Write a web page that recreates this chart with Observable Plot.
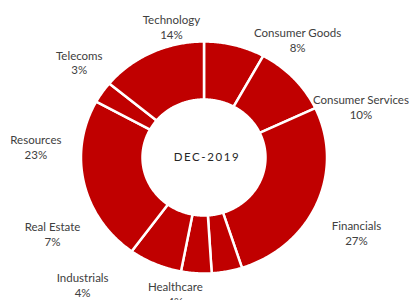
<!DOCTYPE html>
<html>
<head>
<meta charset="utf-8">
<script src="https://cdn.jsdelivr.net/npm/d3@7"></script>
<script src="https://cdn.jsdelivr.net/npm/@observablehq/plot@0.6"></script>
<style>
  html, body { margin: 0; padding: 0; background: #ffffff; }
  #chart { width: 411px; height: 300px; overflow: hidden; }
</style>
</head>
<body>
<div id="chart"></div>
<script>
// ---- data ----
const categories = ["Consumer Goods", "Consumer Services", "Financials", "Healthcare", "Industrials", "Real Estate", "Resources", "Telecoms", "Technology"];
const shares = [8, 10, 27, 4, 4, 7, 23, 3, 14];
const centerLabel = "DEC-2019";
// label placement as in the reference (angle clockwise from top in degrees, distance relative to outer radius)
const labelAngle = [36.8, 70.9, 117.7, 191.2, 222, 242, 273.8, 309, 346.8];
const labelRadius = [1.27, 1.35, 1.40, 1.20, 1.475, 1.395, 1.37, 1.305, 1.16];

// ---- geometry ----
const hole = 0.5;
const pie = d3.pie().sort(null).value(d => d)(shares);
const ring = pie.flatMap((a, i) => {
  const n = Math.max(2, Math.ceil((a.endAngle - a.startAngle) / 0.01));
  const outer = d3.range(n + 1).map(k => {
    const t = a.startAngle + (a.endAngle - a.startAngle) * k / n;
    return {name: categories[i], x: Math.sin(t), y: Math.cos(t)};
  });
  const inner = outer.map(p => ({name: p.name, x: p.x * hole, y: p.y * hole})).reverse();
  return outer.concat(inner);
});

const labels = categories.map((c, i) => {
  const t = labelAngle[i] * Math.PI / 180;
  return {text: c + "\n" + shares[i] + "%", x: labelRadius[i] * Math.sin(t), y: labelRadius[i] * Math.cos(t)};
});

const cx = 203.5, cy = 157, rx = 123, ry = 116;

const chart = Plot.plot({
  width: 411,
  height: 300,
  margin: 0,
  style: {background: "#ffffff", fontFamily: "Lato, 'Open Sans', sans-serif"},
  x: {domain: [-1, 1], range: [cx - rx, cx + rx], axis: null},
  y: {domain: [-1, 1], range: [cy + ry, cy - ry], axis: null},
  marks: [
    Plot.line(ring, {x: "x", y: "y", z: "name", fill: "#C00000", stroke: "#ffffff", strokeWidth: 2.5, curve: "linear-closed"}),
    Plot.text(labels, {x: "x", y: "y", text: "text", fill: "#404040", fontSize: 11.5, lineHeight: 1.3, textAnchor: "middle", lineAnchor: "middle"}),
    Plot.text([{x: 0, y: 0, t: centerLabel}], {x: "x", y: "y", text: "t", fill: "#262626", fontSize: 11.5, textAnchor: "middle", lineAnchor: "middle"})
  ]
});

d3.select(chart).selectAll("text").filter(function() { return this.textContent === centerLabel; })
  .style("letter-spacing", "1.6px").attr("dx", "3");

document.getElementById("chart").appendChild(chart);
</script>
</body>
</html>
